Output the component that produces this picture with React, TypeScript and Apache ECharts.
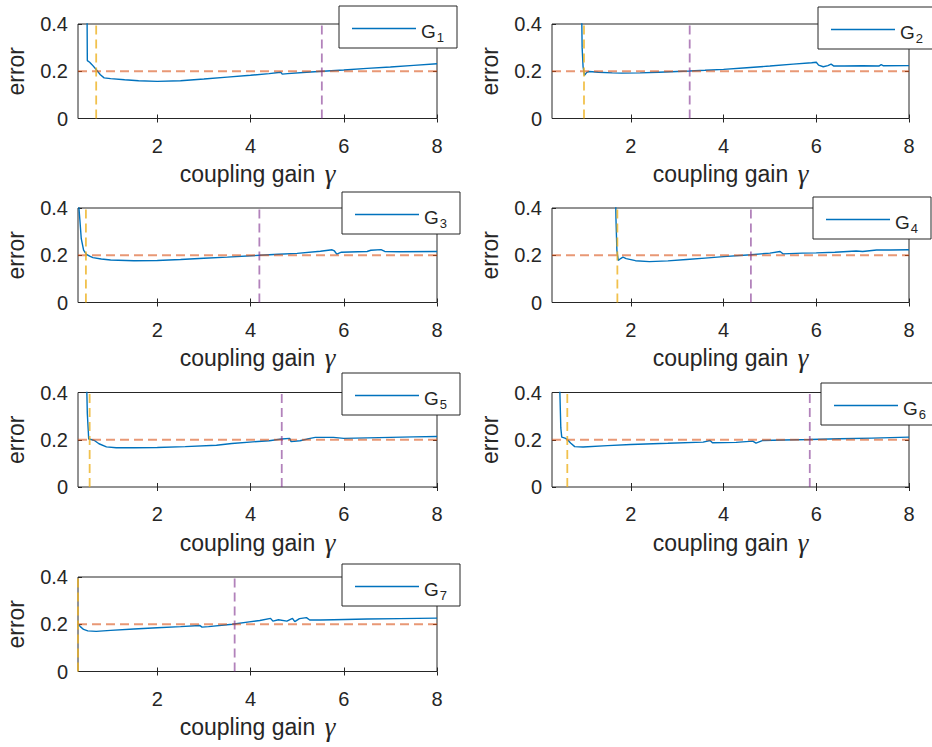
import React, { useEffect, useRef } from "react";
import * as echarts from "echarts";

// ---------- data ----------
const X_MIN = 0.3;
const X_MAX = 8;
const X_TICKS = [2, 4, 6, 8];
const Y_MIN = 0;
const Y_MAX = 0.4;
const Y_STEP = 0.2;
const THRESHOLD = 0.2;

const NAMES = ["G1", "G2", "G3", "G4", "G5", "G6", "G7"];

const G1 = [
  [0.49, 0.6], [0.5, 0.245], [0.55, 0.238], [0.6, 0.228], [0.7, 0.205], [0.78, 0.185],
  [0.86, 0.172], [1.0, 0.169], [1.3, 0.164], [1.6, 0.16], [2.0, 0.157], [2.5, 0.16],
  [3.0, 0.167], [3.5, 0.175], [4.0, 0.183], [4.4, 0.19], [4.65, 0.196], [4.68, 0.188],
  [4.8, 0.19], [5.2, 0.196], [5.55, 0.2], [6.0, 0.205], [6.5, 0.212], [7.0, 0.218],
  [7.5, 0.225], [8.0, 0.232],
];
const G2 = [
  [0.93, 0.6], [0.95, 0.3], [0.97, 0.22], [1.0, 0.183], [1.05, 0.195], [1.1, 0.199],
  [1.3, 0.196], [1.6, 0.193], [1.8, 0.192], [2.2, 0.193], [2.6, 0.196], [3.0, 0.199],
  [3.27, 0.201], [3.6, 0.204], [4.0, 0.208], [4.5, 0.215], [5.0, 0.222], [5.5, 0.23],
  [5.9, 0.236], [6.0, 0.238], [6.05, 0.226], [6.15, 0.219], [6.25, 0.224], [6.32, 0.23],
  [6.38, 0.222], [6.6, 0.222], [7.0, 0.223], [7.35, 0.222], [7.4, 0.228], [7.45, 0.223],
  [8.0, 0.224],
];
const G3 = [
  [0.3, 0.6], [0.32, 0.4], [0.34, 0.35], [0.37, 0.27], [0.42, 0.222], [0.48, 0.204],
  [0.55, 0.196], [0.62, 0.19], [0.8, 0.184], [1.0, 0.18], [1.5, 0.177], [2.0, 0.178],
  [2.5, 0.182], [3.0, 0.187], [3.5, 0.192], [4.2, 0.2], [4.6, 0.204], [5.0, 0.208],
  [5.5, 0.217], [5.75, 0.223], [5.8, 0.218], [5.85, 0.205], [5.95, 0.213], [6.3, 0.215],
  [6.5, 0.216], [6.58, 0.221], [6.8, 0.224], [6.88, 0.216], [7.2, 0.215], [8.0, 0.216],
];
const G4 = [
  [1.66, 0.6], [1.68, 0.35], [1.7, 0.22], [1.73, 0.178], [1.78, 0.186], [1.83, 0.192],
  [1.9, 0.186], [2.1, 0.177], [2.4, 0.173], [2.8, 0.176], [3.2, 0.182], [3.6, 0.188],
  [4.0, 0.194], [4.59, 0.202], [5.0, 0.209], [5.22, 0.216], [5.28, 0.206], [5.7, 0.209],
  [6.0, 0.21], [6.4, 0.213], [6.86, 0.218], [7.0, 0.216], [7.3, 0.222], [7.6, 0.222],
  [8.0, 0.223],
];
const G5 = [
  [0.48, 0.6], [0.49, 0.4], [0.5, 0.31], [0.53, 0.203], [0.6, 0.2], [0.66, 0.196],
  [0.75, 0.183], [0.91, 0.17], [1.12, 0.166], [1.5, 0.166], [2.0, 0.167], [2.6, 0.171],
  [3.27, 0.177], [3.6, 0.184], [4.05, 0.191], [4.4, 0.196], [4.67, 0.203], [4.84, 0.206],
  [4.87, 0.192], [5.06, 0.196], [5.2, 0.202], [5.28, 0.206], [5.39, 0.21], [5.78, 0.21],
  [6.0, 0.206], [6.5, 0.208], [7.0, 0.21], [7.5, 0.212], [8.0, 0.214],
];
const G6 = [
  [0.46, 0.6], [0.47, 0.4], [0.49, 0.25], [0.51, 0.211], [0.58, 0.207], [0.63, 0.201],
  [0.7, 0.186], [0.79, 0.171], [0.97, 0.169], [1.5, 0.175], [2.0, 0.18], [2.8, 0.185],
  [3.56, 0.19], [3.71, 0.197], [3.76, 0.187], [4.27, 0.189], [4.63, 0.194], [4.7, 0.186],
  [4.85, 0.197], [5.3, 0.199], [5.86, 0.201], [6.5, 0.204], [7.2, 0.207], [8.0, 0.211],
];
const G7 = [
  [0.3, 0.2], [0.35, 0.19], [0.42, 0.178], [0.51, 0.172], [0.69, 0.17], [1.0, 0.174],
  [1.5, 0.18], [2.0, 0.185], [2.5, 0.19], [2.91, 0.195], [2.96, 0.188], [3.1, 0.19],
  [3.61, 0.2], [3.97, 0.21], [4.2, 0.216], [4.43, 0.225], [4.48, 0.213], [4.6, 0.219],
  [4.78, 0.213], [4.9, 0.225], [4.95, 0.211], [5.05, 0.224], [5.2, 0.228], [5.27, 0.218],
  [5.5, 0.218], [5.78, 0.219], [6.5, 0.222], [7.2, 0.224], [8.0, 0.226],
];
const SERIES_DATA = [G1, G2, G3, G4, G5, G6, G7];

const YELLOW_X = [0.69, 0.99, 0.47, 1.71, 0.55, 0.63, 0.3];
const PURPLE_X = [5.53, 3.27, 4.19, 4.59, 4.67, 5.86, 3.66];

// ---------- layout / style ----------
const GRID_POS = [
  { left: 78, top: 24, width: 359 },
  { left: 552, top: 24, width: 357 },
  { left: 78, top: 208, width: 359 },
  { left: 552, top: 208, width: 357 },
  { left: 78, top: 392.5, width: 359 },
  { left: 552, top: 392.5, width: 357 },
  { left: 78, top: 577, width: 359 },
];
const GRID_H = 94.5;
const LEGEND_POS = [
  [339, 6], [818, 7], [342, 192], [813, 197], [342, 373], [821, 383], [342, 564],
];

const FONT = "'Liberation Sans', Arial, Helvetica, sans-serif";
const INK = "#262626";
const BLUE = "#0072BD";
const ORANGE = "rgba(217,83,25,0.6)";
const YELLOW = "rgba(237,177,32,0.8)";
const PURPLE = "rgba(126,47,142,0.6)";

function buildOption() {
  const grid: any[] = [];
  const xAxis: any[] = [];
  const yAxis: any[] = [];
  const series: any[] = [];
  const legend: any[] = [];

  for (let i = 0; i < NAMES.length; i++) {
    const g = GRID_POS[i];
    grid.push({
      left: g.left,
      top: g.top,
      width: g.width,
      height: GRID_H,
      show: true,
      borderColor: INK,
      borderWidth: 1,
      backgroundColor: "#fff",
    });
    const tick = {
      show: true,
      inside: true,
      length: 4,
      lineStyle: { color: INK, width: 1 },
    };
    xAxis.push({
      type: "value",
      gridIndex: i,
      min: X_MIN,
      max: X_MAX,
      position: "bottom",
      axisLine: { show: false },
      axisTick: { ...tick, customValues: X_TICKS },
      axisLabel: {
        customValues: X_TICKS,
        margin: 17,
        fontSize: 20,
        color: INK,
        fontFamily: FONT,
      },
      splitLine: { show: false },
      name: "coupling gain {g|γ}",
      nameLocation: "middle",
      nameGap: 42,
      nameTextStyle: {
        fontSize: 23,
        color: INK,
        fontFamily: FONT,
        rich: {
          g: {
            fontSize: 27,
            fontStyle: "italic",
            fontFamily: "'Liberation Serif', 'DejaVu Serif', serif",
            color: INK,
            padding: [0, 0, 0, 3],
          },
        },
      },
    });
    xAxis.push({
      type: "value",
      gridIndex: i,
      min: X_MIN,
      max: X_MAX,
      position: "top",
      axisLine: { show: false },
      axisTick: { ...tick, customValues: X_TICKS },
      axisLabel: { show: false },
      splitLine: { show: false },
    });
    yAxis.push({
      type: "value",
      gridIndex: i,
      min: Y_MIN,
      max: Y_MAX,
      interval: Y_STEP,
      position: "left",
      axisLine: { show: false },
      axisTick: tick,
      axisLabel: { margin: 10, fontSize: 20, color: INK, fontFamily: FONT },
      splitLine: { show: false },
      name: "error",
      nameLocation: "middle",
      nameGap: 51,
      nameTextStyle: { fontSize: 23, color: INK, fontFamily: FONT },
    });
    yAxis.push({
      type: "value",
      gridIndex: i,
      min: Y_MIN,
      max: Y_MAX,
      interval: Y_STEP,
      position: "right",
      axisLine: { show: false },
      axisTick: tick,
      axisLabel: { show: false },
      splitLine: { show: false },
    });

    const xi = 2 * i;
    const yi = 2 * i;
    series.push({
      type: "line",
      name: NAMES[i],
      xAxisIndex: xi,
      yAxisIndex: yi,
      data: SERIES_DATA[i],
      symbol: "none",
      showSymbol: false,
      clip: true,
      lineStyle: { color: BLUE, width: 1.4 },
      itemStyle: { color: BLUE },
      z: 2,
    });
    series.push({
      type: "line",
      xAxisIndex: xi,
      yAxisIndex: yi,
      data: [
        [X_MIN, THRESHOLD],
        [X_MAX, THRESHOLD],
      ],
      symbol: "none",
      silent: true,
      lineStyle: { color: ORANGE, width: 2.2, type: [9, 5] },
      z: 3,
    });
    series.push({
      type: "line",
      xAxisIndex: xi,
      yAxisIndex: yi,
      data: [
        [YELLOW_X[i], Y_MIN],
        [YELLOW_X[i], Y_MAX],
      ],
      symbol: "none",
      silent: true,
      lineStyle: { color: YELLOW, width: 1.8, type: [9, 5] },
      z: 3,
    });
    series.push({
      type: "line",
      xAxisIndex: xi,
      yAxisIndex: yi,
      data: [
        [PURPLE_X[i], Y_MIN],
        [PURPLE_X[i], Y_MAX],
      ],
      symbol: "none",
      silent: true,
      lineStyle: { color: PURPLE, width: 1.8, type: [9, 5] },
      z: 3,
    });

    legend.push({
      data: [NAMES[i]],
      left: LEGEND_POS[i][0],
      top: LEGEND_POS[i][1],
      orient: "horizontal",
      icon: "rect",
      itemWidth: 64,
      itemHeight: 1.3,
      itemStyle: { color: BLUE, borderWidth: 0 },
      padding: [13, 13, 4, 13],
      backgroundColor: "#fff",
      borderColor: INK,
      borderWidth: 1,
      borderRadius: 0,
      selectedMode: false,
      formatter: (name: string) => `{g|G}{s|${name.slice(1)}}`,
      textStyle: {
        color: INK,
        fontFamily: FONT,
        fontSize: 18,
        rich: {
          g: {
            fontSize: 19,
            lineHeight: 19,
            padding: [3, 0, 0, 0],
            verticalAlign: "top",
            color: INK,
            fontFamily: FONT,
          },
          s: {
            fontSize: 13,
            lineHeight: 13,
            padding: [12, 0, 0, 1],
            verticalAlign: "top",
            color: INK,
            fontFamily: FONT,
          },
        },
      },
      z: 10,
    });
  }

  return {
    animation: false,
    backgroundColor: "#fff",
    grid,
    xAxis,
    yAxis,
    series,
    legend,
  };
}

export default function App() {
  const ref = useRef<HTMLDivElement>(null);
  useEffect(() => {
    if (!ref.current) return;
    const chart = echarts.init(ref.current, undefined, { renderer: "svg" });
    chart.setOption(buildOption() as any);
    return () => chart.dispose();
  }, []);
  return (
    <div
      ref={ref}
      style={{ position: "fixed", left: 0, top: 0, width: 932, height: 747, background: "#fff" }}
    />
  );
}
